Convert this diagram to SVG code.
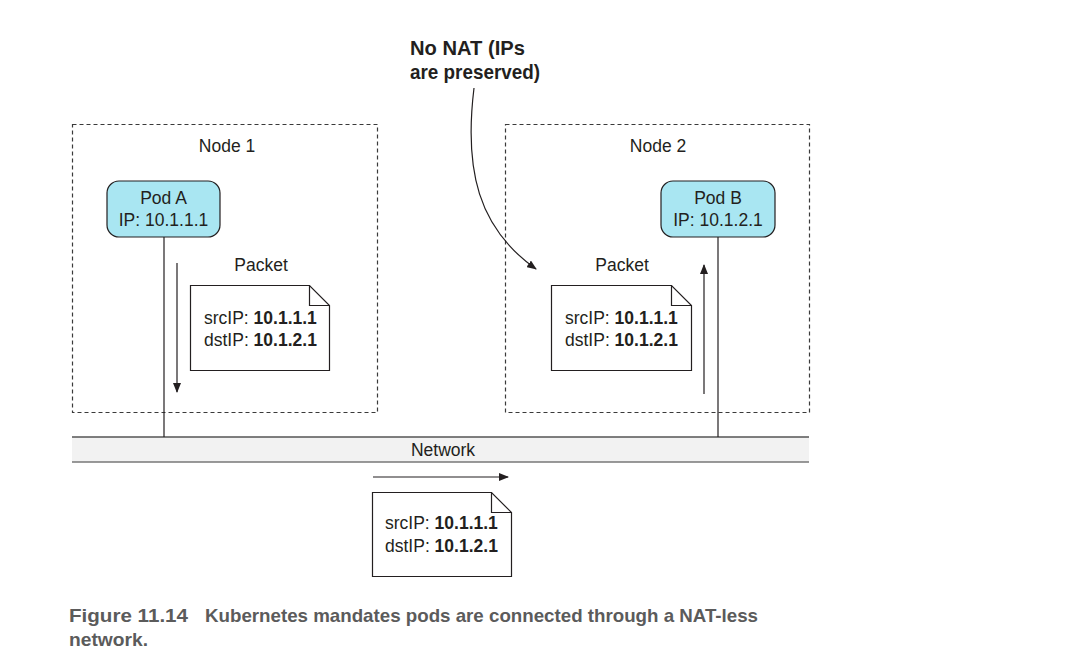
<svg xmlns="http://www.w3.org/2000/svg" width="1084" height="656" viewBox="0 0 1084 656">
<defs>
<style>
.t{font-family:"Liberation Sans",Arial,sans-serif;font-size:17.5px;fill:#231f20}
.b{font-weight:bold}
.node{fill:none;stroke:#3a3a3a;stroke-width:1.2;stroke-dasharray:4 3}
.pod{fill:#a9e6f2;stroke:#231f20;stroke-width:1.2}
.doc{fill:#fff;stroke:#231f20;stroke-width:1.2}
.ln{fill:none;stroke:#231f20;stroke-width:1.2}
.cap{font-family:"Liberation Sans",Arial,sans-serif;font-weight:bold;font-size:18.5px;fill:#5b5b5b}
.call{font-family:"Liberation Sans",Arial,sans-serif;font-weight:bold;font-size:21px;fill:#231f20}
</style>
<marker id="ah" markerWidth="10" markerHeight="8" refX="9" refY="4" orient="auto" markerUnits="userSpaceOnUse">
<path d="M0,0 L10,4 L0,8 Z" fill="#231f20"/>
</marker>
</defs>

<g id="node1">
<rect class="node" x="72.5" y="124.5" width="305" height="288"/>
<text class="t" x="227" y="152" text-anchor="middle">Node 1</text>
</g>
<g id="node2">
<rect class="node" x="505.5" y="124.5" width="304" height="288"/>
<text class="t" x="658" y="152" text-anchor="middle">Node 2</text>
</g>

<g id="network">
<rect x="72" y="437" width="737" height="25" fill="#f2f2f2"/>
<line x1="72" y1="437" x2="809" y2="437" stroke="#555" stroke-width="1.5"/>
<line x1="72" y1="462" x2="809" y2="462" stroke="#777" stroke-width="1.5"/>
<text class="t" x="443" y="456" text-anchor="middle">Network</text>
</g>

<g id="connectors">
<line class="ln" x1="164" y1="237" x2="164" y2="437"/>
<line class="ln" x1="718" y1="237" x2="718" y2="437"/>
<line class="ln" x1="177" y1="263" x2="177" y2="392" marker-end="url(#ah)"/>
<line class="ln" x1="704" y1="394" x2="704" y2="265" marker-end="url(#ah)"/>
<line class="ln" x1="373" y1="477" x2="508" y2="477" marker-end="url(#ah)"/>
<path class="ln" d="M474,88 C464,170 478,228 536,269" marker-end="url(#ah)"/>
</g>

<g id="podA">
<rect class="pod" x="107" y="181" width="113" height="56" rx="12"/>
<text class="t" x="163.5" y="204" text-anchor="middle">Pod A</text>
<text class="t" x="163.5" y="226" text-anchor="middle">IP: 10.1.1.1</text>
</g>
<g id="podB">
<rect class="pod" x="661" y="181" width="114" height="56" rx="12"/>
<text class="t" x="718" y="204" text-anchor="middle">Pod B</text>
<text class="t" x="718" y="226" text-anchor="middle">IP: 10.1.2.1</text>
</g>

<g id="packet1">
<text class="t" x="261" y="271" text-anchor="middle">Packet</text>
<path class="doc" d="M190.5,285.5 H309.5 L329.5,305.5 V370.5 H190.5 Z"/>
<path class="ln" d="M309.5,285.5 V305.5 H329.5"/>
<text class="t" x="204" y="324">srcIP: <tspan class="b">10.1.1.1</tspan></text>
<text class="t" x="204" y="346">dstIP: <tspan class="b">10.1.2.1</tspan></text>
</g>
<g id="packet2">
<text class="t" x="622" y="271" text-anchor="middle">Packet</text>
<path class="doc" d="M551.5,285.5 H671.5 L691.5,305.5 V370.5 H551.5 Z"/>
<path class="ln" d="M671.5,285.5 V305.5 H691.5"/>
<text class="t" x="565" y="324">srcIP: <tspan class="b">10.1.1.1</tspan></text>
<text class="t" x="565" y="346">dstIP: <tspan class="b">10.1.2.1</tspan></text>
</g>
<g id="packet3">
<path class="doc" d="M372.5,492.5 H491.5 L511.5,512.5 V576.5 H372.5 Z"/>
<path class="ln" d="M491.5,492.5 V512.5 H511.5"/>
<text class="t" x="385" y="529">srcIP: <tspan class="b">10.1.1.1</tspan></text>
<text class="t" x="385" y="552">dstIP: <tspan class="b">10.1.2.1</tspan></text>
</g>

<g id="callout">
<text class="call" x="410" y="55" textLength="115" lengthAdjust="spacingAndGlyphs">No NAT (IPs</text>
<text class="call" x="410" y="79" textLength="130" lengthAdjust="spacingAndGlyphs">are preserved)</text>
</g>

<g id="caption">
<text class="cap" x="69" y="622" textLength="119" lengthAdjust="spacingAndGlyphs">Figure 11.14</text>
<text class="cap" x="205" y="622" textLength="553" lengthAdjust="spacingAndGlyphs">Kubernetes mandates pods are connected through a NAT-less</text>
<text class="cap" x="69" y="646" textLength="79" lengthAdjust="spacingAndGlyphs">network.</text>
</g>
</svg>
